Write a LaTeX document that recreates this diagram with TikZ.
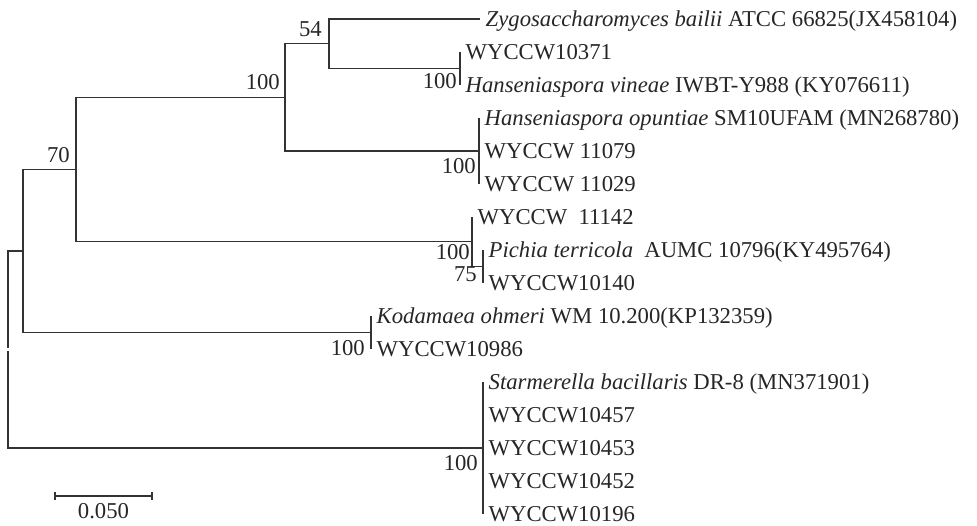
\documentclass[tikz,border=0pt]{standalone}
\usepackage{fontspec}
\setmainfont{Liberation Serif}
\usetikzlibrary{calc}
\begin{document}
\begin{tikzpicture}[x=1pt, y=-1pt,
	every node/.style={font=\fontsize{22.7}{26}\selectfont, text=black!85},
	leaf/.style={anchor=west, inner xsep=5.5pt, inner ysep=0pt, text height=15pt, text depth=0pt},
	bsup/.style={anchor=south east, inner sep=0pt, text height=15.3pt, text depth=0pt},
	bsdown/.style={anchor=north east, inner sep=0pt, text height=15.3pt, text depth=0pt},
	branch/.style={draw=black!80, line width=1.4pt}]
	\useasboundingbox (0,0) rectangle (977,526);
	
	% leaves
	\node[leaf] (l1) at (480,19) {\textit{Zygosaccharomyces bailii} ATCC 66825(JX458104)};
	\node[leaf] (l2) at (460,52) {WYCCW10371};
	\node[leaf] (l3) at (460,85) {\textit{Hanseniaspora vineae} IWBT-Y988 (KY076611)};
	\node[leaf] (l4) at (479,118) {\textit{Hanseniaspora opuntiae} SM10UFAM (MN268780)};
	\node[leaf] (l5) at (479,151) {WYCCW 11079};
	\node[leaf] (l6) at (479,184) {WYCCW 11029};
	\node[leaf] (l7) at (472,217) {WYCCW\ \ 11142};
	\node[leaf] (l8) at (483,250) {\textit{Pichia terricola}\ \ AUMC 10796(KY495764)};
	\node[leaf] (l9) at (483,283) {WYCCW10140};
	\node[leaf] (l10) at (371,316) {\textit{Kodamaea ohmeri} WM 10.200(KP132359)};
	\node[leaf] (l11) at (371,349) {WYCCW10986};
	\node[leaf] (l12) at (483,382) {\textit{Starmerella bacillaris} DR-8 (MN371901)};
	\node[leaf] (l13) at (483,415) {WYCCW10457};
	\node[leaf] (l14) at (483,448) {WYCCW10453};
	\node[leaf] (l15) at (483,481) {WYCCW10452};
	\node[leaf] (l16) at (483,514) {WYCCW10196};
	
	% inner nodes
	\coordinate (e) at (460,68.5);
	\coordinate (d) at (329,43.75);
	\coordinate (f) at (479,151);
	\coordinate (c) at (285,97.4);
	\coordinate (h) at (483,266.5);
	\coordinate (g) at (472,241.75);
	\coordinate (b) at (76,169.6);
	\coordinate (k) at (371,332.5);
	\coordinate (a) at (23,251);
	\coordinate (s) at (483,448);
	\coordinate (r) at (8,349.5);
	
	\draw[branch] (l2.west) -- (l3.west);
	\draw[branch] (d) |- (l1.west);
	\draw[branch] (d) |- (e);
	\draw[branch] (l4.west) -- (l6.west);
	\draw[branch] (c) |- (d);
	\draw[branch] (c) |- (f);
	\draw[branch] (l8.west) -- (l9.west);
	\draw[branch] (l7.west) |- (h);
	\draw[branch] (b) |- (c);
	\draw[branch] (b) |- (g);
	\draw[branch] (l10.west) -- (l11.west);
	\draw[branch] (a) |- (b);
	\draw[branch] (a) |- (k);
	\draw[branch] (l12.west) -- (l16.west);
	\draw[branch, shorten <=1.5pt] (r) |- (a);
	\draw[branch, shorten <=1.5pt] (r) |- (s);
	
	% bootstrap values
	\node[bsup] (bs1) at ([xshift=-7pt,yshift=6.7pt]d) {54};
	\node[bsdown] (bs2) at ([xshift=-3pt,yshift=-4.5pt]e) {100};
	\node[bsup] (bs3) at ([xshift=-5pt,yshift=7.4pt]c) {100};
	\node[bsdown] (bs4) at ([xshift=-3pt,yshift=-7pt]f) {100};
	\node[bsup] (bs5) at ([xshift=-6pt,yshift=6.6pt]b) {70};
	\node[bsdown] (bs6) at ([xshift=-2pt,yshift=-2.5pt]g) {100};
	\node[bsdown] (bs7) at ([xshift=-6pt,yshift=0.5pt]h) {75};
	\node[bsdown] (bs8) at ([xshift=-6pt,yshift=-7.5pt]k) {100};
	\node[bsdown] (bs9) at ([xshift=-5pt,yshift=-7pt]s) {100};
	
	% scale bar
	\coordinate (sb1) at (55,496);
	\coordinate (sb2) at (152,496);
	\draw[branch] (sb1) -- (sb2);
	\draw[branch] ([yshift=4pt]sb1) -- ([yshift=-4pt]sb1);
	\draw[branch] ([yshift=4pt]sb2) -- ([yshift=-4pt]sb2);
	\node[anchor=north, inner sep=0pt, text height=15.3pt, text depth=0pt] (sb) at ([yshift=-7pt]$(sb1)!0.5!(sb2)$) {0.050};
\end{tikzpicture}
\end{document}
